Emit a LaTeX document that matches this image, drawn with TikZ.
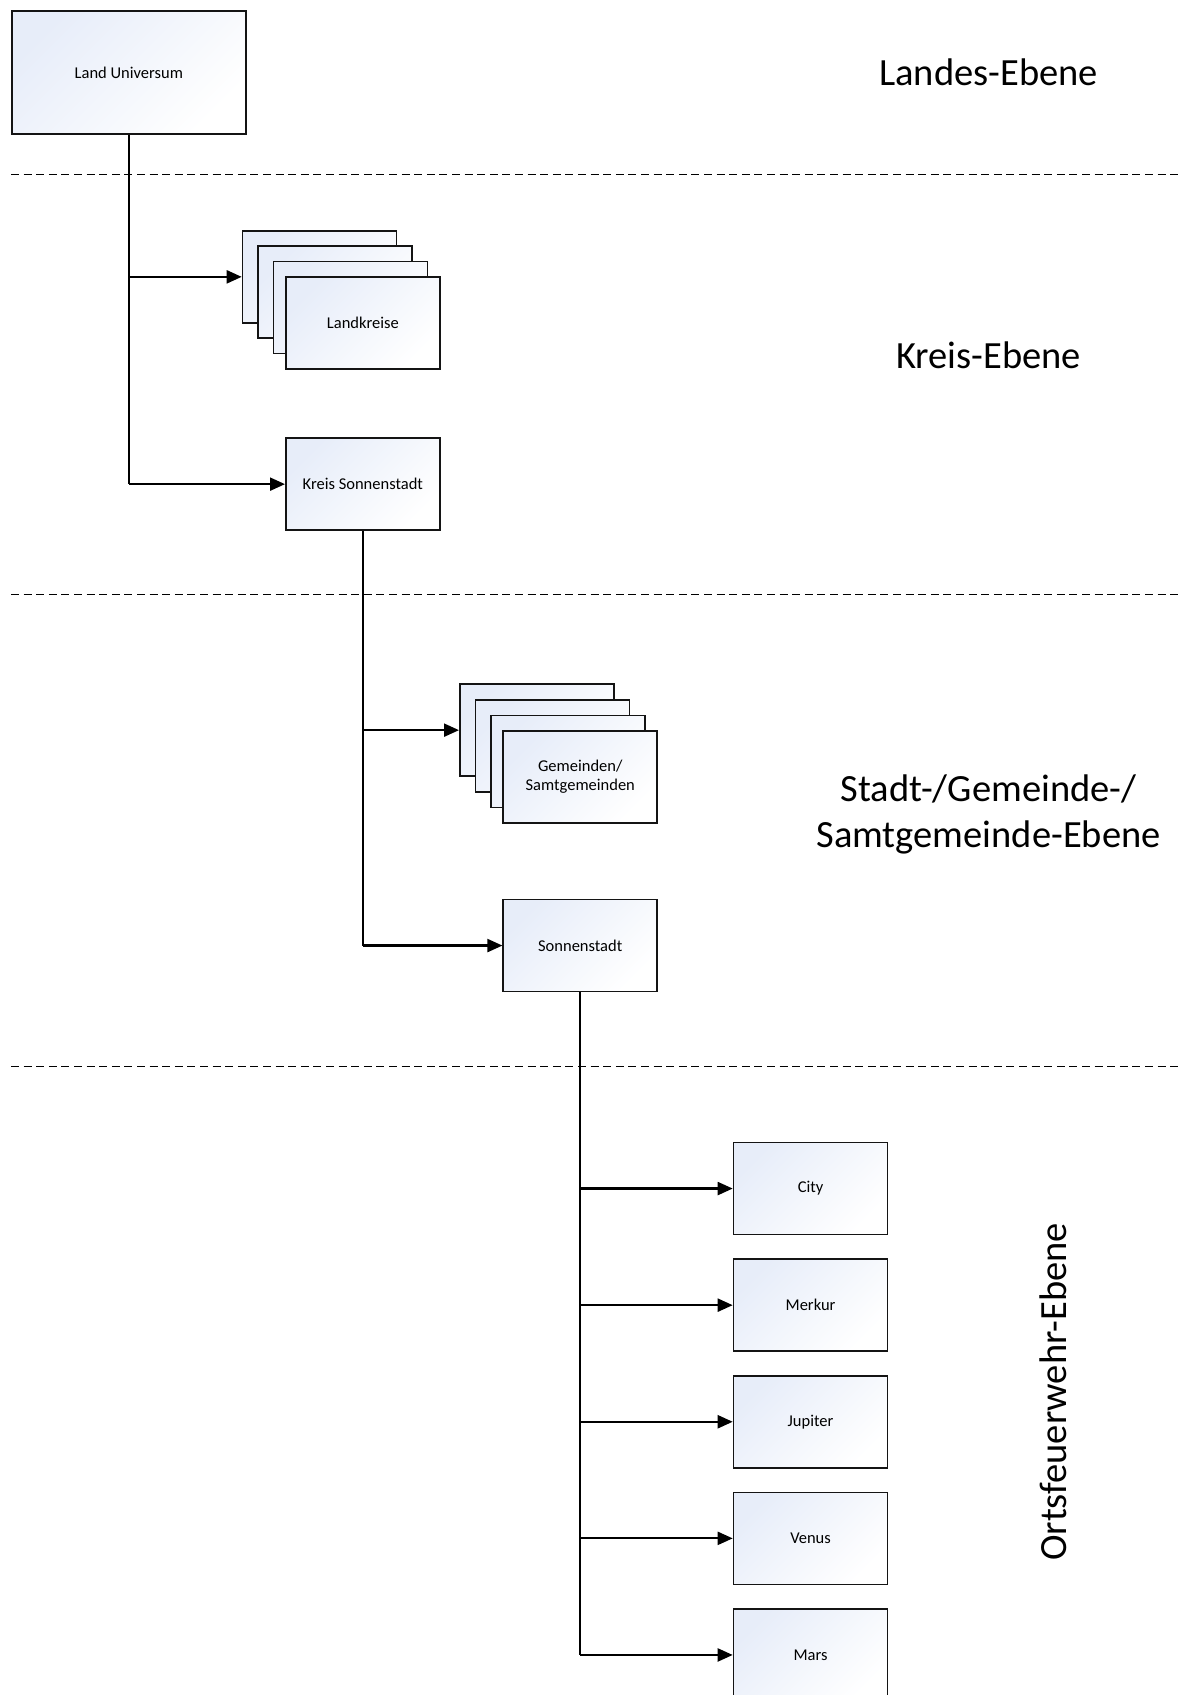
\documentclass[tikz,border=0pt]{standalone}
\usepackage{fontspec}
\setmainfont{Carlito}
\usetikzlibrary{arrows.meta}
\definecolor{boxtop}{RGB}{231,237,249}
\definecolor{boxline}{RGB}{20,20,20}
\tikzset{
  unit/.style={draw=boxline, line width=1.7bp, inner sep=0pt, anchor=north west,
    minimum width=154bp, minimum height=92bp, align=center,
    top color=boxtop, bottom color=white, shading angle=45,
    font=\fontsize{16.5bp}{19bp}\selectfont},
  link/.style={line width=2.2bp, -{Triangle[length=15bp,width=13bp]}},
  trunk/.style={line width=2.2bp},
  level/.style={line width=1.8bp, dash pattern=on 8bp off 4.6bp},
  levellabel/.style={font=\fontsize{38.5bp}{46bp}\selectfont, align=center}
}
\begin{document}
\begin{tikzpicture}[x=1bp,y=-1bp]
\clip (0,0) rectangle (1181,1695);
\fill[white] (0,0) rectangle (1181,1695);

% level separators
\coordinate (d1a) at (11,174.5); \coordinate (d1b) at (1181,174.5);
\coordinate (d2a) at (11,594.5); \coordinate (d2b) at (1181,594.5);
\coordinate (d3a) at (11,1066.5); \coordinate (d3b) at (1181,1066.5);
\draw[level] (d1a) -- (d1b);
\draw[level] (d2a) -- (d2b);
\draw[level] (d3a) -- (d3b);

% level labels
\node[levellabel] (l1) at (988.5,72) {Landes-Ebene};
\node[levellabel] (l2) at (988.5,355.5) {Kreis-Ebene};
\node[levellabel] (l3) at (988.5,814) {Stadt-/Gemeinde-/\\Samtgemeinde-Ebene};
\node[levellabel, rotate=90] (l4) at (1053.5,1392) {Ortsfeuerwehr-Ebene};

% Land
\node[unit, minimum width=234bp, minimum height=123bp] (lu) at (11,10) {Land Universum};

% Landkreise stack
\node[unit] (lk1) at (241.7,230) {};
\node[unit] (lk2) at (257.3,245.3) {};
\node[unit] (lk3) at (272.7,260.7) {};
\node[unit] (lk4) at (285,276) {Landkreise};

% Kreis Sonnenstadt
\node[unit] (ks) at (285,437.3) {Kreis Sonnenstadt};

% Gemeinden stack
\node[unit] (gm1) at (459,683.3) {};
\node[unit] (gm2) at (474.5,699) {};
\node[unit] (gm3) at (490,714.5) {};
\node[unit] (gm4) at (502.4,730) {Gemeinden/\\Samtgemeinden};

% Sonnenstadt
\node[unit] (ss) at (502.4,898.7) {Sonnenstadt};

% Ortsfeuerwehren
\node[unit] (city) at (732.7,1141.7) {City};
\node[unit] (merkur) at (732.7,1258.3) {Merkur};
\node[unit] (jupiter) at (732.7,1374.9) {Jupiter};
\node[unit] (venus) at (732.7,1491.5) {Venus};
\node[unit] (mars) at (732.7,1608.1) {Mars};

% connectors
\draw[trunk] (lu.south) -- (lu.south |- ks.west);
\draw[link] (lu.south |- lk1.west) -- (lk1.west);
\draw[link] (lu.south |- ks.west) -- (ks.west);

\draw[trunk] (ks.south) -- (ks.south |- ss.west);
\draw[link] (ks.south |- gm1.west) -- (gm1.west);
\draw[link] (ks.south |- ss.west) -- (ss.west);

\draw[trunk] (ss.south) -- (ss.south |- mars.west);
\draw[link] (ss.south |- city.west) -- (city.west);
\draw[link] (ss.south |- merkur.west) -- (merkur.west);
\draw[link] (ss.south |- jupiter.west) -- (jupiter.west);
\draw[link] (ss.south |- venus.west) -- (venus.west);
\draw[link] (ss.south |- mars.west) -- (mars.west);
\end{tikzpicture}
\end{document}
